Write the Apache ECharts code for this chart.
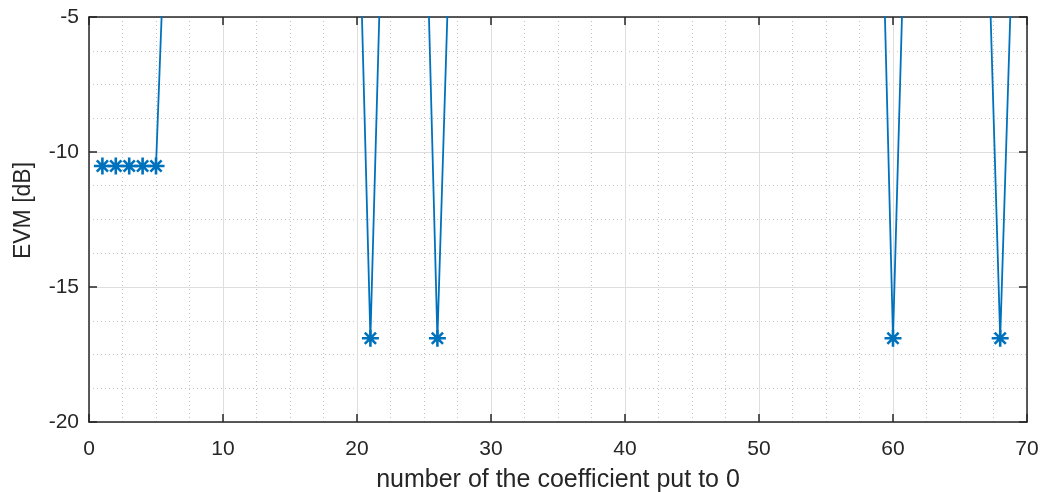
<!DOCTYPE html>
<html>
<head>
<meta charset="utf-8">
<script src="https://cdn.jsdelivr.net/npm/echarts@6/dist/echarts.min.js"></script>
<style>
  html, body { margin: 0; padding: 0; background: #fff; }
  #chart { width: 1045px; height: 492px; }
</style>
</head>
<body>
<div id="chart"></div>
<script>
// coefficient index put to 0
const coeffIndex = [
  1, 2, 3, 4, 5, 6, 7, 8, 9, 10,
  11, 12, 13, 14, 15, 16, 17, 18, 19, 20,
  21, 22, 23, 24, 25, 26, 27, 28, 29, 30,
  31, 32, 33, 34, 35, 36, 37, 38, 39, 40,
  41, 42, 43, 44, 45, 46, 47, 48, 49, 50,
  51, 52, 53, 54, 55, 56, 57, 58, 59, 60,
  61, 62, 63, 64, 65, 66, 67, 68, 69, 70
];
// EVM in dB (values above -5 are off the visible range)
const evmDb = [
  -10.52, -10.52, -10.52, -10.52, -10.52, 2.7, 1.8, 2.3, 1.2, 2.6,
  0.9, 1.5, 2.1, 1.7, 0.6, 2.4, 1.3, 1.9, 0.8, 2.0,
  -16.9, 1.1, 2.2, 1.4, 2.0, -16.9, -0.8, 1.6, 2.5, 0.7,
  1.9, 1.2, 2.8, 0.5, 1.6, 2.2, 1.0, 1.8, 2.4, 0.9,
  1.4, 2.6, 1.1, 0.4, 2.0, 1.5, 2.7, 0.8, 1.3, 2.1,
  1.7, 0.6, 2.3, 1.0, 1.9, 2.5, 0.7, 1.6, 2.9, -16.9,
  0.9, 1.8, 2.2, 1.1, 0.5, 1.4, -0.2, -16.9, -1.0, 1.2
];
const xTicks = [0, 10, 20, 30, 40, 50, 60, 70];
const yTicks = [-20, -15, -10, -5];

const points = coeffIndex.map((x, i) => [x, evmDb[i]]);
const axisColor = '#262626';
const font = 'Liberation Sans, Arial, Helvetica, sans-serif';

const myChart = echarts.init(document.getElementById('chart'));
const option = {
  animation: false,
  grid: { left: 89, right: 18, top: 17, bottom: 70, containLabel: false, outerBoundsMode: 'none' },
  xAxis: [
    {
      type: 'value',
      min: xTicks[0],
      max: xTicks[xTicks.length - 1],
      interval: 10,
      name: 'number of the coefficient put to 0',
      nameLocation: 'middle',
      nameGap: 46,
      nameTextStyle: { color: axisColor, fontSize: 25, fontFamily: font },
      axisLine: { lineStyle: { color: axisColor, width: 1.5 } },
      axisTick: { inside: true, length: 8, lineStyle: { color: axisColor, width: 1.5 } },
      axisLabel: { color: axisColor, fontSize: 21, fontFamily: font, margin: 17 },
      splitLine: { show: true, lineStyle: { color: '#dedede', width: 1 } },
      minorTick: { show: false, splitNumber: 4 },
      minorSplitLine: { show: true, lineStyle: { color: '#c4c4c4', width: 1, type: [1, 3] } }
    },
    {
      type: 'value',
      position: 'top',
      min: xTicks[0],
      max: xTicks[xTicks.length - 1],
      interval: 10,
      axisLine: { show: true, lineStyle: { color: axisColor, width: 1.5 } },
      axisTick: { inside: true, length: 8, lineStyle: { color: axisColor, width: 1.5 } },
      axisLabel: { show: false },
      splitLine: { show: false }
    }
  ],
  yAxis: [
    {
      type: 'value',
      position: 'left',
      min: yTicks[0],
      max: yTicks[yTicks.length - 1],
      interval: 5,
      name: 'EVM [dB]',
      nameLocation: 'middle',
      nameGap: 54,
      nameTextStyle: { color: axisColor, fontSize: 23, fontFamily: font, padding: [0, 0, 0, 18] },
      axisLine: { show: true, onZero: false, lineStyle: { color: axisColor, width: 1.5 } },
      axisTick: { show: true, inside: true, length: 8, lineStyle: { color: axisColor, width: 1.5 } },
      axisLabel: { color: axisColor, fontSize: 21, fontFamily: font, margin: 10 },
      splitLine: { show: true, lineStyle: { color: '#dedede', width: 1 } },
      minorTick: { show: false, splitNumber: 4 },
      minorSplitLine: { show: true, lineStyle: { color: '#c4c4c4', width: 1, type: [1, 3] } }
    },
    {
      type: 'value',
      position: 'right',
      min: yTicks[0],
      max: yTicks[yTicks.length - 1],
      interval: 5,
      axisLine: { show: true, onZero: false, lineStyle: { color: axisColor, width: 1.5 } },
      axisTick: { show: true, inside: true, length: 8, lineStyle: { color: axisColor, width: 1.5 } },
      axisLabel: { show: false },
      splitLine: { show: false }
    }
  ],
  series: [
    {
      type: 'line',
      data: points,
      clip: true,
      symbol: 'path://M0,5L10,5M5,0L5,10M1.7,1.7L8.3,8.3M8.3,1.7L1.7,8.3',
      symbolSize: 17,
      showAllSymbol: true,
      lineStyle: { color: '#0072BD', width: 1.8 },
      itemStyle: { color: 'rgba(0,0,0,0)', borderColor: '#0072BD', borderWidth: 2.6 },
      z: 3
    }
  ]
};
myChart.setOption(option);
</script>
</body>
</html>
